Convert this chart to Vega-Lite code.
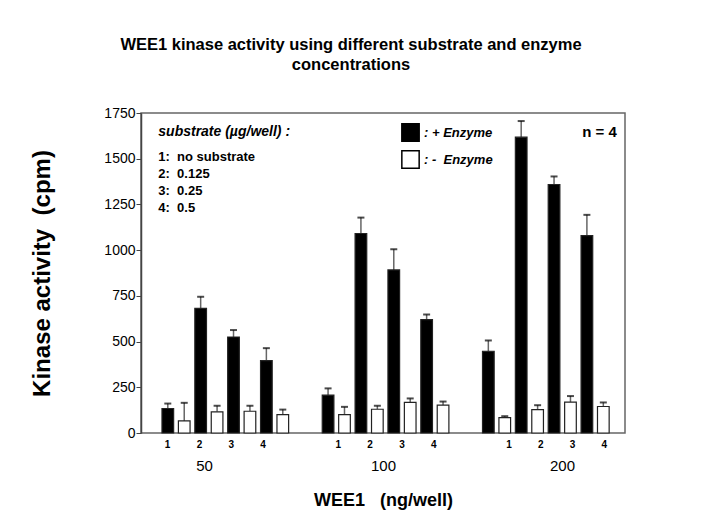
{
  "$schema": "https://vega.github.io/schema/vega-lite/v6.json",
  "width": 702,
  "height": 517,
  "autosize": {"type": "fit", "contains": "padding"},
  "padding": {"left": 30, "top": 36, "right": 77, "bottom": 8},
  "background": "white",
  "config": {
    "font": "Liberation Sans",
    "view": {"stroke": "#666666", "strokeWidth": 1.5},
    "axis": {"grid": false, "labelColor": "black", "titleColor": "black"}
  },
  "title": {
    "text": ["WEE1 kinase activity using different substrate and enzyme", "concentrations"],
    "fontSize": 16.5,
    "fontWeight": "bold",
    "lineHeight": 20,
    "color": "black",
    "anchor": "middle",
    "frame": "group",
    "dx": -32,
    "offset": 33
  },
  "datasets": {
    "kinase": [
      {"group": "50", "substrate": "1", "enzyme": "+", "key": "1+", "value": 134, "upper": 161},
      {"group": "50", "substrate": "1", "enzyme": "-", "key": "1-", "value": 66, "upper": 165},
      {"group": "50", "substrate": "2", "enzyme": "+", "key": "2+", "value": 681, "upper": 745},
      {"group": "50", "substrate": "2", "enzyme": "-", "key": "2-", "value": 116, "upper": 149},
      {"group": "50", "substrate": "3", "enzyme": "+", "key": "3+", "value": 525, "upper": 563},
      {"group": "50", "substrate": "3", "enzyme": "-", "key": "3-", "value": 119, "upper": 149},
      {"group": "50", "substrate": "4", "enzyme": "+", "key": "4+", "value": 396, "upper": 464},
      {"group": "50", "substrate": "4", "enzyme": "-", "key": "4-", "value": 101, "upper": 128},
      {"group": "100", "substrate": "1", "enzyme": "+", "key": "1+", "value": 207, "upper": 244},
      {"group": "100", "substrate": "1", "enzyme": "-", "key": "1-", "value": 101, "upper": 143},
      {"group": "100", "substrate": "2", "enzyme": "+", "key": "2+", "value": 1091, "upper": 1178},
      {"group": "100", "substrate": "2", "enzyme": "-", "key": "2-", "value": 130, "upper": 149},
      {"group": "100", "substrate": "3", "enzyme": "+", "key": "3+", "value": 892, "upper": 1005},
      {"group": "100", "substrate": "3", "enzyme": "-", "key": "3-", "value": 167, "upper": 189},
      {"group": "100", "substrate": "4", "enzyme": "+", "key": "4+", "value": 620, "upper": 648},
      {"group": "100", "substrate": "4", "enzyme": "-", "key": "4-", "value": 152, "upper": 172},
      {"group": "200", "substrate": "1", "enzyme": "+", "key": "1+", "value": 447, "upper": 506},
      {"group": "200", "substrate": "1", "enzyme": "-", "key": "1-", "value": 84, "upper": 92},
      {"group": "200", "substrate": "2", "enzyme": "+", "key": "2+", "value": 1618, "upper": 1706},
      {"group": "200", "substrate": "2", "enzyme": "-", "key": "2-", "value": 128, "upper": 152},
      {"group": "200", "substrate": "3", "enzyme": "+", "key": "3+", "value": 1359, "upper": 1403},
      {"group": "200", "substrate": "3", "enzyme": "-", "key": "3-", "value": 169, "upper": 202},
      {"group": "200", "substrate": "4", "enzyme": "+", "key": "4+", "value": 1079, "upper": 1193},
      {"group": "200", "substrate": "4", "enzyme": "-", "key": "4-", "value": 145, "upper": 167}
    ],
    "slots": [
      {"group": "50", "substrate": "1"}, {"group": "50", "substrate": "2"}, {"group": "50", "substrate": "3"}, {"group": "50", "substrate": "4"},
      {"group": "100", "substrate": "1"}, {"group": "100", "substrate": "2"}, {"group": "100", "substrate": "3"}, {"group": "100", "substrate": "4"},
      {"group": "200", "substrate": "1"}, {"group": "200", "substrate": "2"}, {"group": "200", "substrate": "3"}, {"group": "200", "substrate": "4"}
    ],
    "groups": [{"group": "50"}, {"group": "100"}, {"group": "200"}]
  },
  "resolve": {"scale": {"x": "independent", "xOffset": "independent"}, "axis": {"x": "independent"}},
  "layer": [
    {
      "layer": [
        {
          "data": {"name": "kinase"},
          "encoding": {
            "x": {
              "field": "group", "type": "nominal", "sort": ["50", "100", "200"],
              "scale": {"type": "band", "paddingInner": 0.18, "paddingOuter": 0.1, "align": 0.58},
              "axis": null
            },
            "xOffset": {
              "field": "key", "type": "nominal",
              "sort": ["1+", "1-", "2+", "2-", "3+", "3-", "4+", "4-"],
              "scale": {"paddingInner": 0.29, "paddingOuter": 0.145}
            }
          },
          "layer": [
            {
              "mark": {"type": "rule", "color": "#666666", "strokeWidth": 1.5},
              "encoding": {
                "y": {"field": "value", "type": "quantitative"},
                "y2": {"field": "upper"}
              }
            },
            {
              "mark": {"type": "tick", "color": "black", "size": 7, "thickness": 2},
              "encoding": {
                "y": {"field": "upper", "type": "quantitative"}
              }
            },
            {
              "mark": {"type": "bar", "stroke": "#222222", "strokeWidth": 1.2},
              "encoding": {
                "y": {
                  "field": "value", "type": "quantitative",
                  "scale": {"domain": [0, 1750], "nice": false},
                  "axis": {
                    "values": [0, 250, 500, 750, 1000, 1250, 1500, 1750],
                    "format": "d",
                    "title": "Kinase activity\u00a0\u00a0(cpm)",
                    "titleFontSize": 24, "titleFontWeight": "bold", "titlePadding": 49,
                    "labelFontSize": 14, "labelPadding": 1, "tickSize": 5,
                    "domainColor": "#444444", "tickColor": "#444444", "domainWidth": 1.5
                  }
                },
                "fill": {
                  "field": "enzyme", "type": "nominal",
                  "scale": {"domain": ["+", "-"], "range": ["black", "white"]},
                  "legend": {
                    "orient": "none", "legendX": 260, "legendY": 10,
                    "title": null, "symbolType": "square", "symbolSize": 300,
                    "symbolStrokeColor": "black", "symbolStrokeWidth": 1.5,
                    "labelExpr": "datum.label == '+' ? ':\u00a0+\u00a0Enzyme' : ':\u00a0-\u00a0\u00a0Enzyme'",
                    "labelFontSize": 13, "labelFontWeight": "bold", "labelFontStyle": "italic",
                    "labelColor": "black", "rowPadding": 2, "padding": 0, "labelOffset": 4
                  }
                }
              }
            }
          ]
        },
        {
          "data": {"values": [{}]},
          "mark": {"type": "text", "align": "left", "baseline": "middle", "fontSize": 14, "fontWeight": "bold", "fontStyle": "italic", "dx": -67},
          "encoding": {
            "x": {"datum": "50"},
            "y": {"datum": 1645},
            "text": {"value": "substrate (µg/well) :"}
          }
        },
        {
          "data": {"values": [{}]},
          "mark": {"type": "text", "align": "left", "baseline": "top", "fontSize": 13, "fontWeight": "bold", "lineHeight": 17, "dx": -67},
          "encoding": {
            "x": {"datum": "50"},
            "y": {"datum": 1543},
            "text": {"value": ["1:\u00a0 no substrate", "2:\u00a0 0.125", "3:\u00a0 0.25", "4:\u00a0 0.5"]}
          }
        },
        {
          "data": {"values": [{}]},
          "mark": {"type": "text", "align": "right", "baseline": "middle", "fontSize": 15, "fontWeight": "bold", "dx": 71},
          "encoding": {
            "x": {"datum": "200"},
            "y": {"datum": 1645},
            "text": {"value": "n = 4"}
          }
        }
      ]
    },
    {
      "data": {"name": "slots"},
      "mark": {"type": "text", "fontSize": 10, "fontWeight": "bold", "baseline": "middle", "dy": 12, "dx": 3},
      "encoding": {
        "x": {
          "field": "group", "type": "nominal", "sort": ["50", "100", "200"],
          "scale": {"type": "band", "paddingInner": 0.254, "paddingOuter": 0.045},
          "axis": null
        },
        "xOffset": {
          "field": "substrate", "type": "nominal",
          "sort": ["1", "2", "3", "4"],
          "scale": {"type": "band", "paddingInner": 0, "paddingOuter": 0}
        },
        "y": {"datum": 0, "type": "quantitative"},
        "text": {"field": "substrate"}
      }
    },
    {
      "data": {"name": "groups"},
      "mark": {"type": "point", "opacity": 0},
      "encoding": {
        "x": {
          "field": "group", "type": "nominal", "sort": ["50", "100", "200"],
          "scale": {"type": "point", "padding": 0.352},
          "axis": {
            "orient": "bottom", "domain": false, "ticks": false,
            "labelFontSize": 15, "labelPadding": 25, "labelAngle": 0,
            "title": "WEE1\u00a0\u00a0\u00a0(ng/well)", "titleFontSize": 18, "titleFontWeight": "bold", "titlePadding": 18
          }
        },
        "y": {"datum": 0, "type": "quantitative"}
      }
    }
  ]
}
